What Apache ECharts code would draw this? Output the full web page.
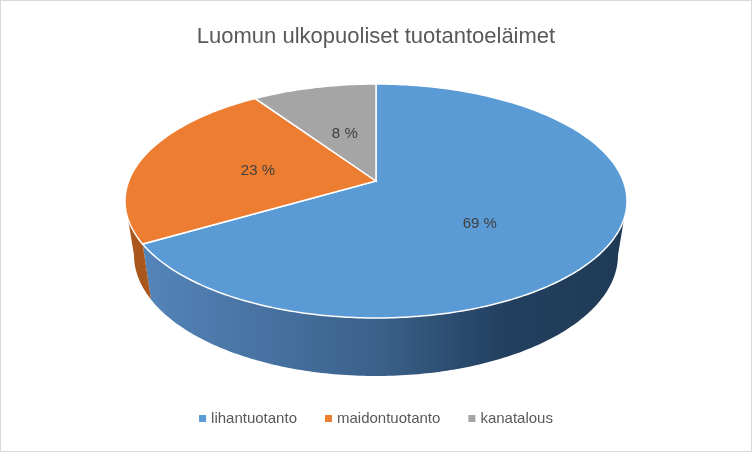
<!DOCTYPE html>
<html><head><meta charset="utf-8">
<script src="https://cdn.jsdelivr.net/npm/echarts@6/dist/echarts.min.js"></script>
<style>html,body{margin:0;padding:0;background:#fff}#c{width:750px;height:450px;border:1px solid #d9d9d9}</style>
</head><body><div id="c"></div>
<script>
var categories = ['lihantuotanto', 'maidontuotanto', 'kanatalous'];
var values = [69, 23, 8];
var colors = ['#5b9bd5', '#ed7d31', '#a5a5a5'];
var sideColors = [null, '#a9571c', '#6f6f6f'];

var chart = echarts.init(document.getElementById('c'), null, {renderer: 'canvas'});
var total = values.reduce(function (s, v) { return s + v; }, 0);

function geo(api) {
  var w = api.getWidth();
  return {cx: w / 2, cy: 200, a: 251, b: 117, ax: w / 2, ay: 180, d: 54, a2: 242, b2: 121};
}
function pt(g, th, bottom) {
  var r = th * Math.PI / 180;
  if (bottom) return [g.cx + g.a2 * Math.sin(r), g.cy + g.d - g.b2 * Math.cos(r)];
  return [g.cx + g.a * Math.sin(r), g.cy - g.b * Math.cos(r)];
}
function angles(i) {
  var s = 0;
  for (var k = 0; k < i; k++) s += values[k];
  return [s / total * 360, (s + values[i]) / total * 360];
}
function topRender(i) {
  return function (params, api) {
    var g = geo(api), an = angles(i), pts = [[g.ax, g.ay]];
    for (var t = an[0]; t <= an[1] + 1e-6; t += 1) pts.push(pt(g, Math.min(t, an[1])));
    pts.push(pt(g, an[1]));
    var mid = (an[0] + an[1]) / 2, mp = pt(g, mid);
    var lx = g.ax + 0.5 * (mp[0] - g.ax), ly = g.ay + 0.5 * (mp[1] - g.ay);
    return {type: 'group', children: [
      {type: 'polygon', shape: {points: pts}, style: {fill: colors[i], stroke: '#fff', lineWidth: 1.5}},
      {type: 'text', x: lx, y: ly, style: {text: Math.round(api.value(0) / total * 100) + ' %', fill: '#404040',
        font: '15px "Liberation Sans", Arial, sans-serif', align: 'center', verticalAlign: 'middle'}}
    ]};
  };
}
function sideRender(i) {
  return function (params, api) {
    var g = geo(api), an = angles(i);
    var s = Math.max(an[0], 90), e = Math.min(an[1], 270);
    if (e <= s) return null;
    var top = [], bot = [];
    for (var t = s; t <= e + 1e-6; t += 1) { top.push(pt(g, Math.min(t, e))); bot.push(pt(g, Math.min(t, e), true)); }
    top.push(pt(g, e)); bot.push(pt(g, e, true));
    var fill = sideColors[i] || new echarts.graphic.LinearGradient(g.cx - g.a, 0, g.cx + g.a, 0, [
      {offset: 0, color: '#5687bd'}, {offset: 0.5, color: '#3b618b'}, {offset: 0.75, color: '#23405f'}, {offset: 1, color: '#1f3a55'}], true);
    return {type: 'polygon', shape: {points: top.concat(bot.reverse())}, style: {fill: fill}};
  };
}
var series = [];
categories.forEach(function (c, i) {
  series.push({type: 'custom', name: c + '_side', z: 1, silent: true, coordinateSystem: 'none',
    renderItem: sideRender(i), data: [[values[i]]]});
});
categories.forEach(function (c, i) {
  series.push({type: 'custom', name: c, z: 2, coordinateSystem: 'none', color: colors[i],
    renderItem: topRender(i), data: [[values[i]]]});
});
chart.setOption({
  animation: false,
  title: {text: 'Luomun ulkopuoliset tuotantoeläimet', left: 'center', top: 20,
    textStyle: {fontFamily: '"Liberation Sans", Arial, sans-serif', fontSize: 22, fontWeight: 'normal', color: '#595959'}},
  legend: {data: categories, bottom: 20, itemWidth: 7, itemHeight: 7, icon: 'rect', itemGap: 28,
    textStyle: {fontFamily: '"Liberation Sans", Arial, sans-serif', fontSize: 15, color: '#595959'}},
  series: series
});
</script></body></html>
